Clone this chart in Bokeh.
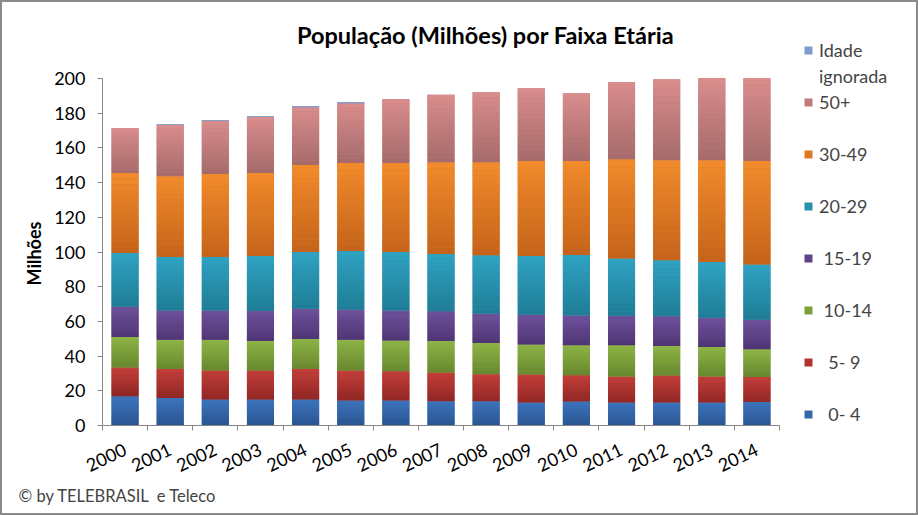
from bokeh.plotting import figure
from bokeh.models import (ColumnDataSource, FixedTicker, Legend, LegendItem, Title, Label, Range1d)
from bokeh.embed import file_html
from bokeh.resources import INLINE

years = list(range(2000, 2015))
v0_4   = [16.9, 15.8, 15.0, 15.0, 15.0, 14.4, 14.4, 14.0, 14.0, 13.3, 13.8, 13.3, 13.3, 13.3, 13.5]
v5_9   = [16.6, 16.7, 16.7, 16.7, 17.5, 17.3, 16.8, 16.6, 15.6, 16.1, 15.2, 15.0, 15.5, 15.0, 14.4]
v10_14 = [17.5, 16.9, 17.7, 17.0, 17.3, 17.7, 17.8, 18.1, 17.9, 17.3, 17.2, 17.9, 17.0, 16.9, 16.1]
v15_19 = [17.5, 16.9, 16.9, 17.3, 17.5, 17.3, 17.3, 17.1, 16.9, 17.1, 17.2, 17.1, 17.1, 16.9, 16.9]
v20_29 = [30.9, 30.8, 30.8, 31.7, 32.7, 33.9, 33.7, 33.0, 33.7, 33.9, 34.8, 33.0, 32.3, 32.1, 31.9]
v30_49 = [46.2, 46.6, 47.9, 47.9, 50.2, 50.7, 51.3, 52.9, 53.6, 54.8, 54.2, 57.2, 57.7, 58.7, 59.6]
v50p   = [25.7, 29.5, 30.5, 32.2, 33.3, 34.5, 36.8, 38.9, 40.4, 41.9, 39.1, 44.4, 46.7, 47.3, 47.7]
v_ign  = [0.0, 0.5, 0.5, 0.5, 0.5, 0.5, 0.0, 0.0, 0.0, 0.0, 0.0, 0.0, 0.0, 0.0, 0.0]
year_labels = [str(y) for y in years]
y_ticks = [0, 20, 40, 60, 80, 100, 120, 140, 160, 180, 200]

series = [
    ("0-4", v0_4, "\u00a0\u00a00- 4", "#3468ab", "#3c74bd", "#2a5490"),
    ("5-9", v5_9, "\u00a0\u00a05- 9", "#b23431", "#c43f3b", "#8e2623"),
    ("10-14", v10_14, "\u00a010-14", "#7ea03c", "#8eb547", "#67862d"),
    ("15-19", v15_19, "\u00a015-19", "#5f4389", "#6f529c", "#4e3474"),
    ("20-29", v20_29, "20-29", "#2990ab", "#30a3c3", "#1f7c95"),
    ("30-49", v30_49, "30-49", "#dd7921", "#f28b2c", "#c4631a"),
    ("50+", v50p, "50+", "#c07a7a", "#da8d8d", "#a56a6a"),
    ("ign", v_ign, "Idade", "#7f9bcb", "#8eaad8", "#6d88b8"),
]

FONT = "Lato"

# layout (pixels, figure coords; the CSS border shifts content by OFF px)
OFF = 2
W, H = 918, 515
FL, FR_DATA, FT_DATA, FB = 102 - OFF, 779 - OFF, 78 - OFF, 425 - OFF
px_x = (FR_DATA - FL) / 15.0
px_y = (FB - FT_DATA) / 200.0
x_end = 2014.5 + (W - 5 - FR_DATA) / px_x
y_end = 200 + FT_DATA / px_y

p = figure(width=W, height=H, output_backend="svg", toolbar_location=None,
           x_range=Range1d(1999.5, x_end), y_range=Range1d(0, y_end),
           min_border_left=FL, min_border_right=5, min_border_top=0, min_border_bottom=H - FB)
p.styles = {"border": "2px solid #8a8a8a"}
p.outline_line_color = None
p.grid.grid_line_color = None
p.background_fill_color = "white"
p.border_fill_color = "white"

# solid stacked bars (data)
data = {"x": years}
keys = []
for key, vals, lab, c, cl, cd in series:
    data[key] = vals
    keys.append(key)
src = ColumnDataSource(data)
renderers = p.vbar_stack(keys, x="x", width=0.6, source=src,
                         color=[s[3] for s in series], line_color=None)

# gradient overlay per segment (light at top, dark at bottom)
def hex2rgb(h):
    return tuple(int(h[i:i + 2], 16) for i in (1, 3, 5))

N = 14
gx, gb, gt, gc = [], [], [], []
base = [0.0] * len(years)
for key, vals, lab, c, cl, cd in series:
    lt, dk = hex2rgb(cl), hex2rgb(cd)
    for i, yv in enumerate(years):
        v = vals[i]
        if v <= 0:
            continue
        for j in range(N):
            f = (j + 0.5) / N
            col = tuple(int(round(dk[k] + (lt[k] - dk[k]) * f)) for k in range(3))
            gx.append(yv)
            gb.append(base[i] + v * j / N)
            gt.append(base[i] + v * (j + 1) / N + (0 if j == N - 1 else 0.02))
            gc.append("#%02x%02x%02x" % col)
    base = [base[i] + vals[i] for i in range(len(years))]
p.vbar(x=gx, bottom=gb, top=gt, width=0.6, fill_color=gc, line_color=None)

# invisible renderer for legend spacer rows
dummy = p.vbar(x=[], top=[], width=0.6, fill_alpha=0, line_alpha=0)

# axes
ax = p.xaxis[0]
ax.bounds = (1999.5, 2014.5)
ax.ticker = FixedTicker(ticks=years, minor_ticks=[y - 0.5 for y in years] + [years[-1] + 0.5])
ax.major_label_overrides = {y: l for y, l in zip(years, year_labels)}
ax.major_tick_line_color = None
ax.minor_tick_line_color = "#868686"
ax.minor_tick_out = 5
ax.minor_tick_in = 0
ax.axis_line_color = "#868686"
ax.major_label_orientation = 0.44
ax.major_label_text_font = FONT
ax.major_label_text_font_size = "18px"
ax.major_label_text_color = "black"
ax.major_label_standoff = 17

ay = p.yaxis[0]
ay.bounds = (0, 200)
ay.ticker = FixedTicker(ticks=y_ticks, minor_ticks=[])
ay.axis_line_color = "#868686"
ay.major_tick_line_color = "#868686"
ay.major_tick_out = 5
ay.major_tick_in = 0
ay.major_label_text_font = FONT
ay.major_label_text_font_size = "18px"
ay.major_label_text_color = "black"
ay.major_label_standoff = 12

# y-axis title as a side title, placed along the 0..200 span
ytitle = Title(text="Milhões", align="left", offset=140, standoff=13,
               text_font=FONT, text_font_size="18px", text_font_style="bold",
               text_color="black")
p.add_layout(ytitle, "left")

# chart title inside the (extended) frame
title = Label(x=485 - OFF - FL, y=FB - (34 - OFF), x_units="screen", y_units="screen",
              text="População (Milhões) por Faixa Etária", text_align="center",
              text_baseline="middle", text_font=FONT, text_font_size="23.5px",
              text_font_style="bold", text_color="black")
p.add_layout(title)

# legend: one column with blank spacer rows
def blank():
    return LegendItem(label="\u00a0", renderers=[dummy])

items = [LegendItem(label=series[7][2], renderers=[renderers[7]]),
         LegendItem(label="ignorada", renderers=[dummy]),
         LegendItem(label=series[6][2], renderers=[renderers[6]])]
for k in range(5, -1, -1):
    items.append(blank())
    items.append(LegendItem(label=series[k][2], renderers=[renderers[k]]))
leg = Legend(items=items, location=(803 - OFF - FL, 0), orientation="vertical",
             glyph_width=10, glyph_height=10, label_standoff=6, spacing=4,
             padding=0, margin=0, label_text_font=FONT, label_text_font_size="18px",
             label_height=20, background_fill_alpha=0, border_line_color=None)
p.add_layout(leg, "center")

foot = Title(text="© by TELEBRASIL\u00a0\u00a0e Teleco", align="left", offset=-(FL - (18 - OFF)),
             text_font=FONT, text_font_size="16.5px", text_font_style="normal", standoff=4)
p.add_layout(foot, "below")

open("out.html", "w").write(file_html(p, INLINE))
